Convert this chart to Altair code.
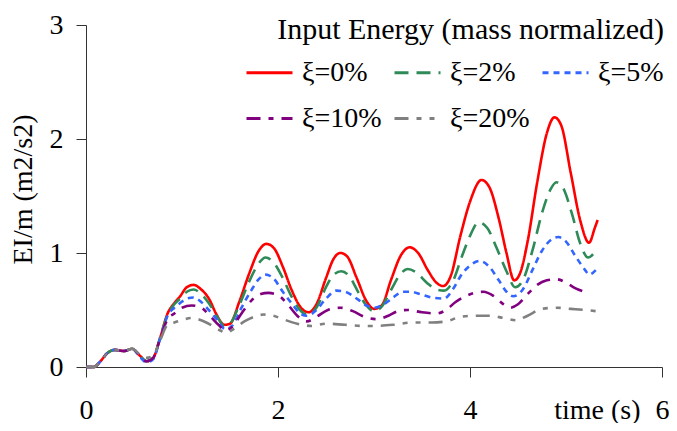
import altair as alt
import pandas as pd

series_names = ["ξ=0%", "ξ=2%", "ξ=5%", "ξ=10%", "ξ=20%"]
series_colors = ["#FF0000", "#2E8B57", "#3366FF", "#800080", "#808080"]
series_dashes = [[1, 0], [14, 8], [6, 5], [14, 8, 5, 8], [14, 8, 5, 8, 5, 8]]

t_early = [0.0, 0.08, 0.15, 0.22, 0.3, 0.4, 0.48, 0.56, 0.63, 0.7, 0.77, 0.85]

t_xi0 = t_early + [0.92, 0.98, 1.05, 1.12, 1.2, 1.28, 1.36, 1.44, 1.5, 1.6, 1.7, 1.8, 1.88, 1.96,
                   2.05, 2.14, 2.23, 2.32, 2.4, 2.5, 2.58, 2.65, 2.72, 2.82, 2.92, 3.0, 3.08, 3.18,
                   3.28, 3.37, 3.46, 3.56, 3.65, 3.72, 3.8, 3.9, 4.0, 4.12, 4.2, 4.3, 4.38, 4.46,
                   4.52, 4.6, 4.7, 4.8, 4.88, 4.95, 5.05, 5.15, 5.24, 5.3, 5.33]
e_xi0 = [0.0, 0.0, 0.05, 0.12, 0.15, 0.14, 0.16, 0.10, 0.05, 0.08, 0.25, 0.47,
         0.56, 0.62, 0.70, 0.72, 0.68, 0.60, 0.46, 0.37, 0.38, 0.58, 0.82, 1.02, 1.08, 1.04,
         0.88, 0.68, 0.53, 0.48, 0.55, 0.78, 0.95, 1.00, 0.97, 0.78, 0.58, 0.51, 0.54, 0.77,
         0.98, 1.05, 1.00, 0.85, 0.74, 0.71, 0.80, 1.15, 1.45, 1.64, 1.58, 1.30, 1.00, 0.76,
         0.82, 1.10, 1.62, 2.05, 2.19, 2.12, 1.70, 1.28, 1.09, 1.22, 1.29]

t_xi2 = t_early + [0.92, 0.98, 1.05, 1.12, 1.2, 1.28, 1.36, 1.44, 1.5, 1.6, 1.7, 1.8, 1.87, 1.95,
                   2.05, 2.14, 2.23, 2.3, 2.4, 2.5, 2.58, 2.66, 2.74, 2.84, 2.92, 3.0, 3.08, 3.18,
                   3.28, 3.35, 3.44, 3.55, 3.65, 3.73, 3.82, 3.92, 4.0, 4.09, 4.18, 4.28, 4.38,
                   4.47, 4.55, 4.65, 4.75, 4.84, 4.9, 4.97, 5.06, 5.15, 5.23, 5.31]
e_xi2 = [0.0, 0.0, 0.05, 0.12, 0.15, 0.14, 0.16, 0.10, 0.05, 0.08, 0.25, 0.46,
         0.55, 0.60, 0.66, 0.68, 0.64, 0.56, 0.45, 0.36, 0.38, 0.55, 0.75, 0.91, 0.96, 0.92,
         0.78, 0.62, 0.50, 0.46, 0.52, 0.70, 0.81, 0.84, 0.80, 0.65, 0.54, 0.49, 0.53, 0.68,
         0.82, 0.86, 0.83, 0.74, 0.68, 0.67, 0.75, 0.98, 1.15, 1.27, 1.22, 1.04, 0.84,
         0.70, 0.76, 1.02, 1.35, 1.56, 1.62, 1.57, 1.35, 1.08, 0.96, 1.02]

t_xi5 = t_early + [0.92, 0.98, 1.05, 1.12, 1.2, 1.3, 1.38, 1.45, 1.52, 1.62, 1.72, 1.8, 1.87, 1.95,
                   2.05, 2.15, 2.23, 2.3, 2.4, 2.5, 2.61, 2.7, 2.82, 2.92, 3.0, 3.1, 3.2, 3.3,
                   3.38, 3.48, 3.6, 3.73, 3.82, 3.92, 4.0, 4.1, 4.2, 4.3, 4.38, 4.45, 4.55, 4.65,
                   4.75, 4.85, 4.92, 5.0, 5.1, 5.2, 5.24, 5.31]
e_xi5 = [0.0, 0.0, 0.05, 0.12, 0.15, 0.14, 0.16, 0.09, 0.04, 0.07, 0.24, 0.45,
         0.52, 0.56, 0.60, 0.61, 0.57, 0.48, 0.40, 0.33, 0.36, 0.52, 0.67, 0.77, 0.81, 0.78,
         0.66, 0.55, 0.47, 0.45, 0.50, 0.60, 0.67, 0.66, 0.60, 0.54, 0.52, 0.55, 0.61, 0.66,
         0.66, 0.64, 0.61, 0.60, 0.68, 0.82, 0.89, 0.93, 0.88, 0.76, 0.66, 0.62, 0.68, 0.85,
         1.02, 1.12, 1.14, 1.10, 0.97, 0.85, 0.81, 0.85]

t_xi10 = t_early + [0.92, 1.0, 1.1, 1.2, 1.3, 1.38, 1.45, 1.52, 1.62, 1.72, 1.82, 1.9, 2.0, 2.1,
                    2.2, 2.3, 2.4, 2.52, 2.65, 2.78, 2.9, 3.03, 3.15, 3.25, 3.35, 3.5, 3.65, 3.75,
                    3.85, 3.95, 4.05, 4.14, 4.25, 4.35, 4.42, 4.5, 4.6, 4.7, 4.8, 4.9, 5.0, 5.1,
                    5.23]
e_xi10 = [0.0, 0.0, 0.05, 0.12, 0.15, 0.14, 0.16, 0.10, 0.05, 0.08, 0.24, 0.42,
          0.47, 0.52, 0.54, 0.52, 0.44, 0.37, 0.32, 0.35, 0.47, 0.58, 0.64, 0.65, 0.63, 0.55,
          0.45, 0.40, 0.44, 0.50, 0.52, 0.49, 0.44, 0.42, 0.45, 0.49, 0.50, 0.48, 0.47, 0.50,
          0.57, 0.62, 0.65, 0.66, 0.62, 0.55, 0.52, 0.55, 0.64, 0.72, 0.76, 0.77, 0.74, 0.69,
          0.65]

t_xi20 = t_early + [0.92, 1.0, 1.1, 1.2, 1.3, 1.4, 1.45, 1.55, 1.65, 1.75, 1.85, 1.95, 2.05, 2.2,
                    2.35, 2.5, 2.7, 2.9, 3.0, 3.2, 3.4, 3.6, 3.75, 3.9, 4.05, 4.2, 4.35, 4.48,
                    4.6, 4.75, 4.9, 5.05, 5.2, 5.31]
e_xi20 = [0.0, 0.0, 0.05, 0.12, 0.15, 0.14, 0.16, 0.11, 0.08, 0.10, 0.23, 0.37,
          0.39, 0.41, 0.43, 0.41, 0.37, 0.32, 0.30, 0.34, 0.40, 0.44, 0.46, 0.45, 0.42, 0.38,
          0.36, 0.38, 0.37, 0.36, 0.36, 0.37, 0.39, 0.39, 0.40, 0.44, 0.45, 0.45, 0.43, 0.41,
          0.45, 0.51, 0.52, 0.51, 0.50, 0.49]

series_t = [t_xi0, t_xi2, t_xi5, t_xi10, t_xi20]
series_e = [e_xi0, e_xi2, e_xi5, e_xi10, e_xi20]

rows = []
for name, ts, es in zip(series_names, series_t, series_e):
    for t, e in zip(ts, es):
        rows.append({"series": name, "t": t, "e": e})
df = pd.DataFrame(rows)

FONT = "Liberation Serif, Times New Roman, serif"

legend = alt.Legend(
    title="Input Energy (mass normalized)",
    orient="none", legendX=159, legendY=-10, direction="horizontal",
    columns=3, symbolType="stroke", symbolSize=2116, symbolStrokeWidth=3,
    labelFont=FONT, labelFontSize=28, labelColor="black", labelOffset=8, labelLimit=300,
    columnPadding=6, rowPadding=7, padding=0,
    titleFont=FONT, titleFontSize=30, titleFontWeight="normal", titleColor="black",
    titleAnchor="end", titleLimit=600, titlePadding=3,
)

chart = alt.Chart(df).mark_line(strokeWidth=2.6, interpolate="monotone").encode(
    x=alt.X("t:Q", scale=alt.Scale(domain=[0, 6], nice=False),
            axis=alt.Axis(values=[0, 2, 4, 6], title="time (s)", grid=False,
                          tickSize=10, labelPadding=33, labelFlush=False, labelBaseline="middle",
                          labelFont=FONT, labelFontSize=28, labelColor="black",
                          titleFont=FONT, titleFontSize=28, titleFontWeight="normal",
                          titleColor="black", titleAlign="right", titleBaseline="middle",
                          titleX=554, titleY=43,
                          domainColor="#333333", tickColor="#333333")),
    y=alt.Y("e:Q", scale=alt.Scale(domain=[0, 3], nice=False),
            axis=alt.Axis(values=[0, 1, 2, 3], title="EI/m (m2/s2)", grid=False,
                          tickSize=10, labelPadding=13, labelFlush=False,
                          labelFont=FONT, labelFontSize=28, labelColor="black",
                          titleFont=FONT, titleFontSize=28, titleFontWeight="normal",
                          titleColor="black", titleAlign="center", titleBaseline="middle",
                          titleX=-63, titleY=164,
                          domainColor="#333333", tickColor="#333333")),
    color=alt.Color("series:N", scale=alt.Scale(domain=series_names, range=series_colors),
                    legend=legend),
    strokeDash=alt.StrokeDash("series:N", scale=alt.Scale(domain=series_names, range=series_dashes),
                              legend=legend),
).properties(
    width=576, height=342,
    autosize=alt.AutoSizeParams(type="none"),
    padding={"left": 78, "top": 17, "right": 7, "bottom": 56},
).configure_view(stroke=None)

chart.save("out.html", embed_options={"renderer": "svg", "actions": False})
